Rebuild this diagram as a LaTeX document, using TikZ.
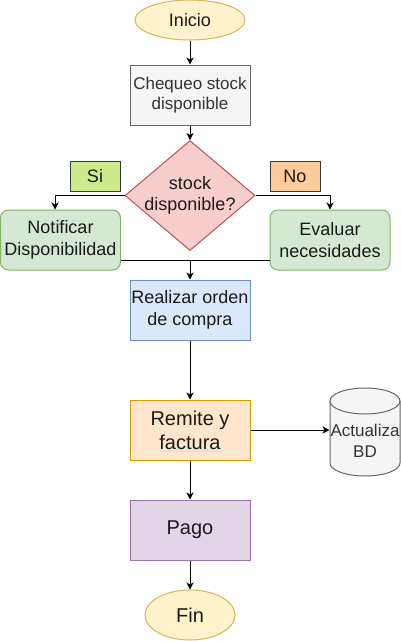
\documentclass[tikz,border=0pt]{standalone}
\usepackage{fontspec}
\setmainfont{Liberation Sans}
\usetikzlibrary{shapes.geometric}
\usetikzlibrary{arrows.meta}
\definecolor{termfill}{HTML}{FFF2CC}
\definecolor{termline}{HTML}{D6B656}
\definecolor{grayfill}{HTML}{F5F5F5}
\definecolor{grayline}{HTML}{666666}
\definecolor{graytext}{HTML}{333333}
\definecolor{redfill}{HTML}{F8CECC}
\definecolor{redline}{HTML}{B85450}
\definecolor{sifill}{HTML}{CDEB8B}
\definecolor{nofill}{HTML}{FFCC99}
\definecolor{tagline}{HTML}{36393D}
\definecolor{greenfill}{HTML}{D5E8D4}
\definecolor{greenline}{HTML}{82B366}
\definecolor{bluefill}{HTML}{DAE8FC}
\definecolor{blueline}{HTML}{6C8EBF}
\definecolor{orangefill}{HTML}{FFE6CC}
\definecolor{orangeline}{HTML}{D79B00}
\definecolor{purplefill}{HTML}{E1D5E7}
\definecolor{purpleline}{HTML}{9673A6}
\definecolor{ink}{HTML}{1A1A1A}
\newcommand{\fsz}[1] % font size in pt, baseline 1.2x
{\fontsize{#1}{1.2\dimexpr #1pt\relax}\selectfont}
\newcommand{\dbcyl}[4] % x left, y top, width, height (px)
{
	% body
	\draw[fill=grayfill, draw=grayline] (#1,#2+13) -- (#1,#2+#4-13)
		arc[start angle=180, end angle=360, x radius=#3/2*1pt, y radius=13pt]
		-- (#1+#3,#2+13)
		arc[start angle=0, end angle=180, x radius=#3/2*1pt, y radius=13pt] -- cycle;
	% front rim of the lid
	\draw[draw=grayline] (#1,#2+13)
		arc[start angle=180, end angle=360, x radius=#3/2*1pt, y radius=13pt];
}

\begin{document}
\begin{tikzpicture}[x=1pt, y=-1pt, line width=1pt, text=ink,
	term/.style={ellipse, fill=termfill, draw=termline, inner sep=0pt, font=\fsz{18}},
	box/.style={rectangle, minimum width=120pt, minimum height=60pt, inner sep=0pt, align=center, font=\fsz{18}},
	tag/.style={rectangle, minimum width=50pt, minimum height=30pt, inner sep=0pt, draw=tagline, font=\fsz{18}},
	flow/.style={-{Stealth[length=7pt, width=7pt, inset=2pt]}, line width=0.9pt}]
	\useasboundingbox (0,0) rectangle (401,641);
	% start / end
	\node[term, minimum width=110pt, minimum height=40pt] (ini) at (190,20) {Inicio};
	\node[term, minimum width=90pt, minimum height=50pt, font=\fsz{20}] (fin) at (190,615) {Fin};

	% steps
	\node[box, fill=grayfill, draw=grayline, text=graytext, font=\fsz{17}] (cheq) at (190,95) {Chequeo stock\\disponible};
	\node[diamond, minimum width=130pt, minimum height=110pt, inner sep=0pt, fill=redfill, draw=redline] (chk) at (190,195.5) {};
	\node[align=center, inner sep=0pt, font=\fsz{18}] (chkt) at (chk) {stock\\disponible?};
	\node[tag, fill=sifill] (si) at (95,176) {Si};
	\node[tag, fill=nofill] (no) at (295,176) {No};
	\node[box, rounded corners=8pt, fill=greenfill, draw=greenline] (noti) at (60.5,240) {Notificar\\Disponibilidad};
	\node[box, rounded corners=8pt, fill=greenfill, draw=greenline] (eval) at (330,240) {Evaluar\\necesidades};
	\node[box, fill=bluefill, draw=blueline] (rea) at (190,310) {Realizar orden\\de compra};
	\node[box, fill=orangefill, draw=orangeline, font=\fsz{20}] (rem) at (190,430) {Remite y\\factura};
	\node[box, fill=purplefill, draw=purpleline, font=\fsz{20}] (pago) at (190,530) {Pago};

	% data store
	\dbcyl{330}{388}{70}{88}
	\node[text width=70pt, align=center, inner sep=0pt, text=graytext, font=\fsz{17}] (db) at (365,441) {Actualiza\\BD};

	% connectors
	\coordinate (mrg) at (190,260);
	\draw[flow] (ini) -- (cheq);
	\draw[flow] (cheq) -- (chk);
	\draw[flow] (chk.west) -| ([xshift=-5.5pt]noti.north);
	\draw[flow] (chk.east) -| (eval.north);
	\draw ([yshift=-20pt]noti.east) -- ([yshift=-20pt]eval.west);
	\draw[flow] (mrg) -- (rea);
	\draw[flow] (rea) -- (rem);
	\draw[flow] (rem.east) -- (rem.east -| db.west);
	\draw[flow] (rem) -- (pago);
	\draw[flow] (pago) -- (fin);
\end{tikzpicture}
\end{document}
